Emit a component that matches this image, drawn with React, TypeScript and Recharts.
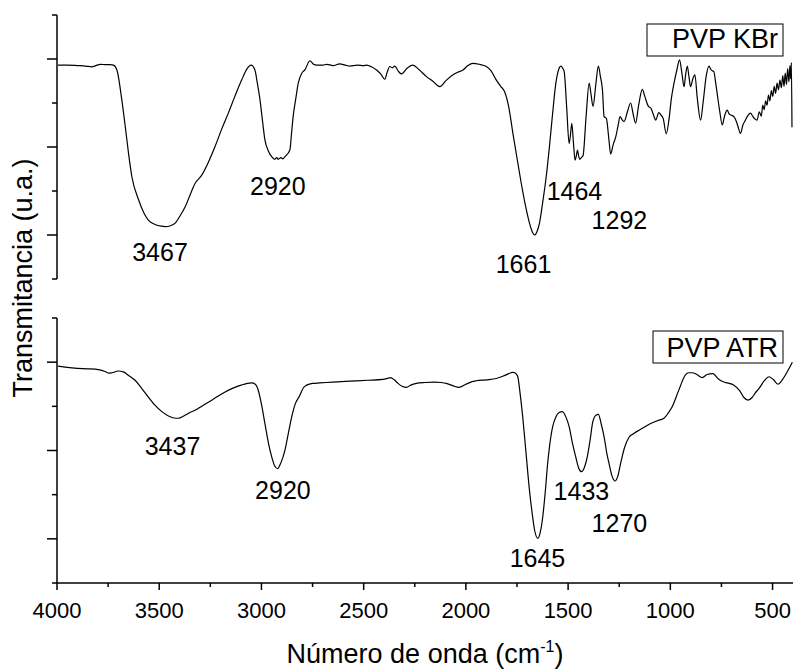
import React from 'react';
import { LineChart, Line, XAxis, YAxis, ReferenceDot } from 'recharts';

// ── Spectrum data ────────────────────────────────────────────────────────────

const kbrWavenumber = [
  3995, 3950, 3900, 3860, 3829, 3810, 3789, 3760, 3740, 3724, 3707, 3683, 3666, 3650, 3634, 3601, 3575, 3553,
  3520, 3490, 3471, 3445, 3422, 3400, 3373, 3350, 3325, 3292, 3260, 3227, 3195, 3162, 3130, 3097, 3070, 3051,
  3032, 3020, 3007, 2995, 2983, 2965, 2950, 2935, 2925, 2918, 2905, 2895, 2885, 2861, 2853, 2845, 2832, 2820,
  2800, 2788, 2763, 2745, 2730, 2700, 2680, 2650, 2617, 2590, 2568, 2530, 2500, 2486, 2460, 2437, 2415, 2397,
  2385, 2372, 2360, 2348, 2330, 2315, 2290, 2259, 2230, 2193, 2160, 2128, 2095, 2063, 2040, 2014, 1990, 1966,
  1935, 1900, 1875, 1851, 1830, 1811, 1790, 1770, 1750, 1729, 1710, 1689, 1675, 1664, 1652, 1640, 1625, 1607,
  1593, 1575, 1560, 1545, 1536, 1525, 1519, 1507, 1495, 1488, 1482, 1474, 1466, 1460, 1454, 1448, 1443, 1435,
  1427, 1412, 1397, 1388, 1378, 1365, 1352, 1342, 1332, 1324, 1313, 1300, 1292, 1280, 1267, 1255, 1246, 1236,
  1226, 1210, 1194, 1182, 1170, 1155, 1137, 1125, 1108, 1095, 1080, 1072, 1056, 1045, 1035, 1020, 1007, 995,
  982, 968, 955, 944, 933, 925, 917, 909, 901, 890, 880, 868, 852, 840, 825, 811, 800, 787,
  778, 771, 758, 746, 735, 722, 712, 700, 689, 677, 668, 657, 645, 633, 620, 608, 597, 587,
  576, 565, 555, 548, 541, 534, 527, 520, 513, 506, 499, 492, 485, 478, 471, 464, 457, 450,
  444, 438, 432, 426, 420, 415, 411, 408, 405,
];

const kbrTransmittance = [
  4.86, 4.86, 4.85, 4.84, 4.82, 4.85, 4.88, 4.87, 4.87, 4.86, 4.75, 4.07, 3.46, 2.85, 2.33, 1.8, 1.5, 1.34,
  1.24, 1.2, 1.19, 1.21, 1.27, 1.42, 1.64, 1.9, 2.17, 2.36, 2.65, 3.01, 3.4, 3.77, 4.15, 4.52, 4.78, 4.86,
  4.75, 4.45, 4.07, 3.6, 3.16, 2.9, 2.78, 2.72, 2.76, 2.72, 2.76, 2.73, 2.78, 2.93, 3.3, 3.69, 4.1, 4.45,
  4.7, 4.75, 4.96, 4.88, 4.86, 4.86, 4.88, 4.85, 4.89, 4.86, 4.84, 4.86, 4.85, 4.86, 4.82, 4.75, 4.65, 4.54,
  4.7, 4.83, 4.8, 4.84, 4.72, 4.66, 4.78, 4.86, 4.76, 4.6, 4.49, 4.37, 4.52, 4.64, 4.7, 4.75, 4.85, 4.9,
  4.88, 4.83, 4.72, 4.52, 4.38, 4.26, 3.9, 3.31, 2.75, 2.17, 1.7, 1.27, 1.07, 1.0, 1.08, 1.27, 1.72, 2.33,
  2.93, 3.8, 4.45, 4.78, 4.84, 4.78, 4.71, 3.9, 3.08, 3.3, 3.54, 3.1, 2.7, 2.8, 2.93, 2.78, 2.72, 2.76,
  2.8, 3.7, 4.45, 4.2, 3.92, 4.4, 4.84, 4.6, 4.3, 3.69, 3.65, 3.15, 2.84, 3.05, 3.23, 3.5, 3.69, 3.62,
  3.58, 3.8, 4.0, 3.75, 3.54, 3.95, 4.31, 4.15, 3.93, 3.88, 3.7, 3.61, 3.78, 3.72, 3.65, 3.3, 3.61, 4.1,
  4.45, 4.75, 4.98, 4.7, 4.37, 4.65, 4.84, 4.6, 4.37, 4.55, 4.64, 4.1, 3.61, 4.0, 4.6, 4.84, 4.75, 4.71,
  4.45, 4.22, 3.8, 3.5, 3.7, 3.84, 3.75, 3.72, 3.69, 3.58, 3.45, 3.31, 3.5, 3.61, 3.72, 3.77, 3.7, 3.64,
  3.61, 3.8, 3.7, 3.95, 3.85, 4.05, 3.95, 4.18, 4.05, 4.28, 4.15, 4.38, 4.22, 4.45, 4.3, 4.52, 4.35, 4.62,
  4.38, 4.68, 4.42, 4.78, 4.48, 4.85, 4.55, 4.92, 3.45,
];

const atrWavenumber = [
  3995, 3950, 3900, 3850, 3797, 3765, 3745, 3731, 3700, 3675, 3650, 3618, 3585, 3553, 3520, 3487, 3450, 3420,
  3406, 3380, 3350, 3325, 3290, 3243, 3195, 3145, 3100, 3048, 3030, 3016, 3000, 2983, 2965, 2950, 2935, 2921,
  2905, 2885, 2868, 2852, 2835, 2812, 2795, 2779, 2750, 2714, 2650, 2568, 2480, 2405, 2385, 2369, 2350, 2332,
  2310, 2291, 2270, 2242, 2200, 2153, 2120, 2096, 2065, 2034, 2000, 1970, 1949, 1900, 1851, 1810, 1780, 1770,
  1755, 1746, 1735, 1722, 1705, 1689, 1675, 1664, 1648, 1636, 1624, 1612, 1600, 1593, 1575, 1560, 1544, 1528,
  1510, 1495, 1478, 1463, 1448, 1434, 1420, 1406, 1392, 1381, 1366, 1352, 1338, 1324, 1310, 1300, 1285, 1270,
  1257, 1243, 1225, 1202, 1180, 1153, 1120, 1088, 1060, 1031, 1010, 991, 960, 926, 910, 893, 870, 844,
  820, 792, 765, 738, 712, 689, 660, 640, 620, 600, 585, 567, 540, 518, 495, 473, 455, 437,
  420, 403,
];

const atrTransmittance = [
  4.91, 4.88, 4.86, 4.85, 4.83, 4.79, 4.75, 4.76, 4.8, 4.78, 4.7, 4.59, 4.4, 4.21, 4.02, 3.88, 3.77, 3.73,
  3.73, 3.78, 3.86, 3.91, 4.01, 4.14, 4.28, 4.4, 4.48, 4.53, 4.5, 4.37, 4.05, 3.61, 3.15, 2.86, 2.65, 2.59,
  2.72, 3.01, 3.4, 3.76, 4.05, 4.25, 4.42, 4.48, 4.52, 4.53, 4.55, 4.57, 4.59, 4.61, 4.63, 4.65, 4.6, 4.52,
  4.45, 4.43, 4.48, 4.52, 4.54, 4.55, 4.54, 4.52, 4.47, 4.43, 4.5, 4.56, 4.58, 4.6, 4.63, 4.7, 4.76, 4.77,
  4.74, 4.67, 4.3, 3.76, 2.9, 2.1, 1.55, 1.2, 1.01, 1.15, 1.5, 2.05, 2.71, 3.01, 3.55, 3.76, 3.86, 3.88,
  3.75, 3.54, 3.15, 2.86, 2.6, 2.52, 2.62, 2.86, 3.25, 3.61, 3.79, 3.82, 3.6, 3.31, 2.92, 2.71, 2.42, 2.31,
  2.42, 2.71, 3.05, 3.3, 3.38, 3.46, 3.55, 3.63, 3.68, 3.73, 3.85, 3.99, 4.35, 4.71, 4.76, 4.76, 4.72, 4.65,
  4.72, 4.74, 4.62, 4.55, 4.52, 4.48, 4.35, 4.2, 4.14, 4.2, 4.3, 4.4, 4.58, 4.67, 4.6, 4.5, 4.58, 4.71,
  4.85, 5.0,
];

// peak annotations: text, wavenumber and transmittance where the label sits
const kbrPeakText = ['3467', '2920', '1661', '1464', '1292'];
const kbrPeakWave = [3496, 2920, 1718, 1469, 1249];
const kbrPeakValue = [0.61, 2.11, 0.34, 2.0, 1.34];

const atrPeakText = ['3437', '2920', '1645', '1433', '1270'];
const atrPeakWave = [3435, 2895, 1650, 1435, 1249];
const atrPeakValue = [3.1, 2.1, 0.57, 2.08, 1.36];

const xTicks = [4000, 3750, 3500, 3250, 3000, 2750, 2500, 2250, 2000, 1750, 1500, 1250, 1000, 750, 500];
const yTicks = [0, 1, 2, 3, 4, 5, 6];

const kbrData = kbrWavenumber.map((w, i) => ({ w, t: kbrTransmittance[i] }));
const atrData = atrWavenumber.map((w, i) => ({ w, t: atrTransmittance[i] }));

const FONT = '"Liberation Sans", Arial, sans-serif';

// ── Tick renderers ───────────────────────────────────────────────────────────

function YTick({ x, y, payload }: any) {
  const len = payload.value % 2 === 1 ? 10 : 5;
  return <line x1={x - len} x2={x} y1={y} y2={y} stroke="#000" strokeWidth={1.5} />;
}

function XTick({ x, y, payload }: any) {
  const major = payload.value % 500 === 0;
  return (
    <g>
      <line x1={x} x2={x} y1={y} y2={y + (major ? 7 : 4)} stroke="#000" strokeWidth={1.5} />
      {major && (
        <text x={x} y={y + 35} textAnchor="middle" fontSize={22} fontFamily={FONT} fill="#000">
          {payload.value}
        </text>
      )}
    </g>
  );
}

function peakDots(text: string[], wave: number[], value: number[]) {
  return text.map((t, i) => (
    <ReferenceDot
      key={t + i}
      x={wave[i]}
      y={value[i]}
      r={0}
      fill="none"
      stroke="none"
      label={{ value: t, position: 'center', fontSize: 25, fill: '#000', fontFamily: FONT }}
    />
  ));
}

// ── Main ─────────────────────────────────────────────────────────────────────

export default function App() {
  const yAxisProps = {
    type: 'number' as const,
    domain: [0, 6],
    ticks: yTicks,
    interval: 0 as const,
    width: 20,
    tickSize: 0,
    tickMargin: 0,
    tick: <YTick />,
    axisLine: { stroke: '#000', strokeWidth: 1.5 },
  };

  return (
    <div style={{ position: 'absolute', left: 0, top: 0, width: 793, height: 669, background: '#fff', overflow: 'hidden' }}>
      <div style={{ position: 'absolute', left: 0, top: 0 }}>
        <LineChart width={793} height={290} data={kbrData} margin={{ top: 15, right: 0, bottom: 11, left: 37 }}>
          <XAxis type="number" dataKey="w" domain={[400, 4000]} reversed allowDataOverflow hide />
          <YAxis {...yAxisProps} />
          <Line type="monotone" dataKey="t" stroke="#000" strokeWidth={1.2} dot={false} isAnimationActive={false} />
          {peakDots(kbrPeakText, kbrPeakWave, kbrPeakValue)}
        </LineChart>
      </div>

      <div style={{ position: 'absolute', left: 0, top: 290 }}>
        <LineChart width={793} height={379} data={atrData} margin={{ top: 28, right: 0, bottom: 46, left: 37 }}>
          <XAxis
            type="number"
            dataKey="w"
            domain={[400, 4000]}
            reversed
            allowDataOverflow
            ticks={xTicks}
            interval={0}
            height={40}
            tickSize={0}
            tickMargin={0}
            tick={<XTick />}
            axisLine={{ stroke: '#000', strokeWidth: 1.5 }}
          />
          <YAxis {...yAxisProps} />
          <Line type="monotone" dataKey="t" stroke="#000" strokeWidth={1.2} dot={false} isAnimationActive={false} />
          {peakDots(atrPeakText, atrPeakWave, atrPeakValue)}
        </LineChart>
      </div>

      {/* titles and sample boxes */}
      <svg width={793} height={669} style={{ position: 'absolute', left: 0, top: 0, pointerEvents: 'none' }} fontFamily={FONT}>
        <text transform="translate(32, 278) rotate(-90)" textAnchor="middle" fontSize={27} fill="#000">
          Transmitancia (u.a.)
        </text>
        <text x={425} y={663} textAnchor="middle" fontSize={27} fill="#000">
          Número de onda (cm<tspan dy={-11} fontSize={16}>-1</tspan>
          <tspan dy={11}>)</tspan>
        </text>
        <rect x={647} y={24} width={136} height={32} fill="#fff" stroke="#000" strokeWidth={1} />
        <text x={778} y={48} textAnchor="end" fontSize={27} fill="#000">PVP KBr</text>
        <rect x={653} y={331} width={130} height={32} fill="#fff" stroke="#000" strokeWidth={1} />
        <text x={778} y={357} textAnchor="end" fontSize={27} fill="#000">PVP ATR</text>
      </svg>
    </div>
  );
}
